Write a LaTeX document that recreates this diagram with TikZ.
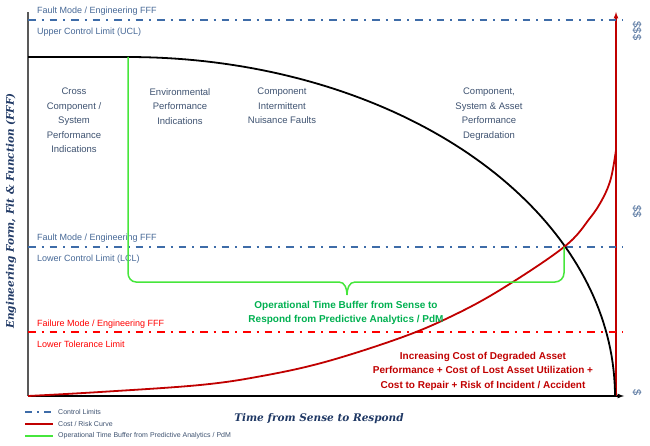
\documentclass[tikz,border=0pt]{standalone}
\usepackage{fontspec}
\setmainfont{Liberation Sans}
\newfontfamily\axisfont{DejaVu Serif}
\definecolor{limitblue}{RGB}{62,108,168}
\definecolor{limittext}{RGB}{70,104,150}
\definecolor{regiontext}{RGB}{62,82,112}
\definecolor{axisnavy}{RGB}{31,56,100}
\definecolor{failred}{RGB}{255,0,0}
\definecolor{costred}{RGB}{192,0,0}
\definecolor{buffergreen}{RGB}{70,230,60}
\definecolor{buffertext}{RGB}{0,176,80}
\begin{document}
\begin{tikzpicture}[x=1pt,y=-1pt,
  limit/.style={limitblue, line width=2.2pt, dash pattern=on 7.5pt off 6pt on 2pt off 6pt},
  fail/.style={failred, line width=2.2pt, dash pattern=on 7.5pt off 6pt on 2pt off 6pt},
  cost/.style={costred, line width=1.8pt},
  buffer/.style={buffergreen, line width=1.5pt},
  limitlabel/.style={anchor=west, inner sep=0pt, font=\fontsize{9}{11}\selectfont},
  region/.style={anchor=north, inner sep=0pt, align=center, regiontext, font=\fontsize{9.5}{14.5}\selectfont},
  callout/.style={anchor=north, inner sep=0pt, align=center, font=\fontsize{10}{14.3}\selectfont\bfseries},
  legend/.style={anchor=west, inner sep=0pt, regiontext, font=\fontsize{7}{8}\selectfont},
  dollar/.style={rotate=-90, inner sep=0pt, limittext, font=\fontsize{11}{11}\selectfont}]
\useasboundingbox (0,0) rectangle (650,446);
% axes
\coordinate (o) at (28,396);
\coordinate (ytop) at (28,12);
\coordinate (xend) at (624,396);
\coordinate (cbase) at (616,396);
\coordinate (ctop) at (616,12);
\draw[line width=1.5pt, black!65] (o) -- (ytop);
\draw[line width=1.2pt, -latex] (o) -- (xend);
\draw[costred, line width=1.2pt, -latex] (cbase) -- (ctop);
% limits
\draw[limit] (28,20) -- (623,20);
\draw[limit] (28,247) -- (623,247);
\draw[fail] (28,332) -- (623,332);
\node[limitlabel, limittext] (ucl1) at (37,11) {Fault Mode / Engineering FFF};
\node[limitlabel, limittext] (ucl2) at (37,32) {Upper Control Limit (UCL)};
\node[limitlabel, limittext] (lcl1) at (37,238) {Fault Mode / Engineering FFF};
\node[limitlabel, limittext] (lcl2) at (37,259) {Lower Control Limit (LCL)};
\node[limitlabel, failred] (ltl1) at (37,324) {Failure Mode / Engineering FFF};
\node[limitlabel, failred] (ltl2) at (37,344) {Lower Tolerance Limit};
% FFF curve
\draw[line width=1.8pt] (28,57) -- (128,57)
  -- plot[domain=0:90, samples=80] ({128+487*sin(\x)},{396-339*cos(\x)});
% cost curve
\draw[cost] plot[smooth, tension=0.6] coordinates {(28,396) (100,392) (200,385) (262,376) (325,362) (400,338) (450,317) (500,290) (564,247) (590,218) (603,198) (611,178) (616,150)};
% buffer bracket
\coordinate (cross) at (564,247);
\coordinate (tip) at (347,295);
\draw[buffer] (128,57) -- (128,273) to[out=-90,in=180] (136,282) -- (339,282)
  to[out=0,in=90] (tip) to[out=90,in=180] (355,282) -- (555,282)
  to[out=0,in=-90] (564,273) -- (cross);
% regions
\node[region] (r1) at (74,88) {Cross\\Component /\\System\\Performance\\Indications};
\node[region] (r2) at (180,88) {Environmental\\Performance\\Indications};
\node[region] (r3) at (282,88) {Component\\Intermittent\\Nuisance Faults};
\node[region] (r4) at (489,88) {Component,\\System \& Asset\\Performance\\Degradation};
\node[callout, buffertext] (gap) at (346,301) {Operational Time Buffer from Sense to\\Respond from Predictive Analytics / PdM};
\node[callout, costred] (risk) at (483,352) {Increasing Cost of Degraded Asset\\Performance + Cost of Lost Asset Utilization +\\Cost to Repair + Risk of Incident / Accident};
% dollars
\node[dollar] (d3) at (637,31) {\$\$\$};
\node[dollar] (d2) at (637,212) {\$\$};
\node[dollar] (d1) at (637,393) {\$};
% axis titles
\node[axisnavy, rotate=90, inner sep=0pt, font=\axisfont\fontsize{10.5}{12}\selectfont\bfseries\itshape] (ylab) at (11,211) {Engineering Form, Fit \& Function (FFF)};
\node[axisnavy, inner sep=0pt, font=\axisfont\fontsize{10.5}{12}\selectfont\bfseries\itshape] (xlab) at (319,419) {Time from Sense to Respond};
% legend
\coordinate (l1a) at (25,412); \coordinate (l1b) at (53,412);
\coordinate (l2a) at (25,424); \coordinate (l2b) at (53,424);
\coordinate (l3a) at (25,436); \coordinate (l3b) at (53,436);
\draw[limitblue, line width=1.6pt, dash pattern=on 7pt off 5pt on 2pt off 5pt] (l1a) -- (l1b);
\draw[costred, line width=1.6pt] (l2a) -- (l2b);
\draw[buffergreen, line width=1.6pt] (l3a) -- (l3b);
\node[legend] (k1) at (58,412) {Control Limits};
\node[legend] (k2) at (58,424) {Cost / Risk Curve};
\node[legend] (k3) at (58,436) {Operational Time Buffer from Predictive Analytics / PdM};
\end{tikzpicture}
\end{document}
